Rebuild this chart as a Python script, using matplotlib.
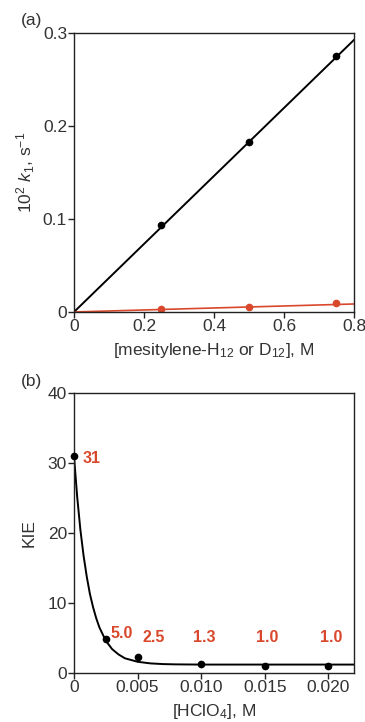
import numpy as np
import matplotlib
matplotlib.use("Agg")
from matplotlib import pyplot as plt

plt.rcParams['font.family'] = ['Liberation Sans', 'DejaVu Sans']
plt.rcParams['mathtext.fontset'] = 'custom'
plt.rcParams['mathtext.rm'] = 'Liberation Sans'
plt.rcParams['mathtext.it'] = 'Liberation Sans:italic'

# panel (a): k1 vs mesitylene concentration
conc = [0.25, 0.5, 0.75]
k_h12 = [0.093, 0.183, 0.275]
k_d12 = [0.0029, 0.0057, 0.0094]
fit_x = [0, 0.8]
fit_h12 = [0, 0.2925]
fit_d12 = [0, 0.0086]

# panel (b): KIE vs HClO4
acid = [0, 0.0025, 0.005, 0.010, 0.015, 0.020]
kie = [31, 4.8, 2.3, 1.3, 1.0, 1.0]
kie_labels = ["31", "5.0", "2.5", "1.3", "1.0", "1.0"]
curve_x = [0, 0.00025, 0.0005, 0.00075, 0.001, 0.00125, 0.0015, 0.00175, 0.002,
           0.0025, 0.003, 0.0035, 0.004, 0.005, 0.006, 0.007, 0.008, 0.010, 0.022]
curve_y = [31, 25.2, 20.5, 16.8, 13.8, 11.3, 9.4, 7.8, 6.5,
           4.6, 3.4, 2.65, 2.1, 1.6, 1.37, 1.27, 1.23, 1.2, 1.2]

red = '#d9482c'
txt = '#333333'
fs = 12.5

fig = plt.figure(figsize=(3.65, 7.22), dpi=100)

def style(ax):
    for s in ax.spines.values():
        s.set_linewidth(1.0)
        s.set_color('#222222')
    ax.tick_params(direction='out', length=4, width=1, labelsize=fs,
                   colors='#222222', labelcolor=txt, pad=1)

ax1 = fig.add_axes([0.2027, 0.5679, 0.767, 0.3864])
ax1.plot(fit_x, fit_h12, color='black', lw=1.4)
ax1.plot(conc, k_h12, 'o', color='black', ms=4.5)
ax1.plot(fit_x, fit_d12, color=red, lw=1.2)
ax1.plot(conc, k_d12, 'o', color=red, ms=4.5)
ax1.set_xlim(0, 0.8)
ax1.set_ylim(0, 0.3)
ax1.set_xticks([0, 0.2, 0.4, 0.6, 0.8])
ax1.set_xticklabels(["0", "0.2", "0.4", "0.6", "0.8"])
ax1.set_yticks([0, 0.1, 0.2, 0.3])
ax1.set_yticklabels(["0", "0.1", "0.2", "0.3"])
ax1.set_xlabel(r"[mesitylene-H$_{12}$ or D$_{12}$], M", fontsize=fs, color=txt, labelpad=5)
ax1.set_ylabel(r"10$^{2}$ $\mathit{k}_{1}$, s$^{-1}$", fontsize=fs, color=txt, labelpad=4)
style(ax1)
fig.text(0.058, 0.971, "(a)", fontsize=fs, color=txt, va='center')

ax2 = fig.add_axes([0.2027, 0.0679, 0.767, 0.3878])
ax2.plot(curve_x, curve_y, color='black', lw=1.4)
ax2.plot(acid, kie, 'o', color='black', ms=4.5, clip_on=False, zorder=5)
offsets = [(0.0007, 30.6, 'left'), (0.0029, 5.7, 'left'), (0.0054, 5.1, 'left'),
           (0.0102, 5.1, 'center'), (0.0152, 5.1, 'center'), (0.0202, 5.1, 'center')]
for (tx, ty, ha), lab in zip(offsets, kie_labels):
    ax2.text(tx, ty, lab, color=red, fontsize=11.5, fontweight='bold', ha=ha, va='center')
ax2.set_xlim(0, 0.022)
ax2.set_ylim(0, 40)
ax2.set_xticks([0, 0.005, 0.010, 0.015, 0.020])
ax2.set_xticklabels(["0", "0.005", "0.010", "0.015", "0.020"])
ax2.set_yticks([0, 10, 20, 30, 40])
ax2.set_xlabel(r"[HClO$_{4}$], M", fontsize=fs, color=txt, labelpad=5)
ax2.set_ylabel("KIE", fontsize=fs, color=txt, labelpad=8)
style(ax2)
fig.text(0.058, 0.472, "(b)", fontsize=fs, color=txt, va='center')

fig.savefig('out.png', dpi=100)
